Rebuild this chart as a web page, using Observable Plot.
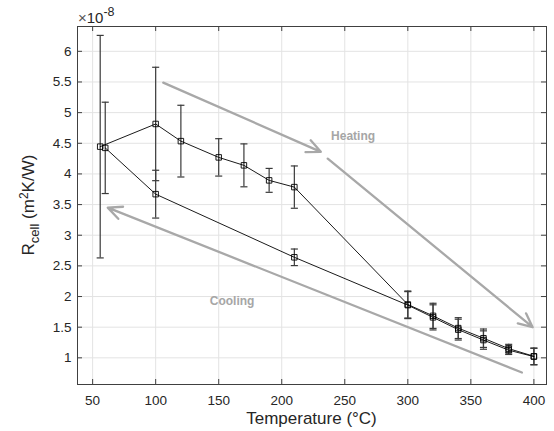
<!DOCTYPE html>
<html>
<head>
<meta charset="utf-8">
<script src="https://cdn.jsdelivr.net/npm/d3@7"></script>
<script src="https://cdn.jsdelivr.net/npm/@observablehq/plot@0.6"></script>
<style>
  html, body { margin: 0; padding: 0; background: #fff; }
  #chart { width: 554px; height: 431px; }
</style>
</head>
<body>
<div id="chart"></div>
<script>
// ---- data (R_cell in units of 1e-8 m^2K/W) ----
const heatT   = [56, 100, 120, 150, 170, 190, 210, 300, 320, 340, 360, 380, 400];
const heatR   = [4.445, 4.815, 4.535, 4.27, 4.14, 3.895, 3.785, 1.87, 1.685, 1.485, 1.32, 1.15, 1.025];
const heatErr = [1.815, 0.925, 0.585, 0.305, 0.35, 0.195, 0.345, 0.22, 0.205, 0.17, 0.15, 0.07, 0.135];

const coolT   = [400, 380, 360, 340, 320, 300, 210, 100, 60];
const coolR   = [1.02, 1.125, 1.29, 1.46, 1.66, 1.86, 2.64, 3.67, 4.425];
const coolErr = [0.135, 0.07, 0.15, 0.17, 0.205, 0.22, 0.135, 0.39, 0.745];

const xTicks = [50, 100, 150, 200, 250, 300, 350, 400];
const yTicks = [1, 1.5, 2, 2.5, 3, 3.5, 4, 4.5, 5, 5.5, 6];

// annotation arrows and labels (data units)
const arrowStartT = [106, 236.5, 390.5];
const arrowStartR = [5.49, 4.25, 0.76];
const arrowEndT   = [231, 399, 62];
const arrowEndR   = [4.36, 1.50, 3.45];
const labelText = ["Heating", "Cooling"];
const labelT    = [256.6, 160.6];
const labelR    = [4.61, 1.92];

// ---- build tables ----
const heat = heatT.map((t, i) => ({T: t, R: heatR[i], lo: heatR[i] - heatErr[i], hi: heatR[i] + heatErr[i]}));
const cool = coolT.map((t, i) => ({T: t, R: coolR[i], lo: coolR[i] - coolErr[i], hi: coolR[i] + coolErr[i]}));
const all = heat.concat(cool);
const arrows = arrowStartT.map((t, i) => ({x1: t, y1: arrowStartR[i], x2: arrowEndT[i], y2: arrowEndR[i]}));
const labels = labelText.map((s, i) => ({text: s, T: labelT[i], R: labelR[i]}));

const W = 554, H = 431;
const mL = 77, mR = 8, mT = 26, mB = 47;
const pW = W - mL - mR, pH = H - mT - mB;
const axisColor = "#404040";
const gridColor = "#e3e3e3";
const font = "'Liberation Sans', Arial, Helvetica, sans-serif";

const capSymbol = {
  draw(ctx, size) {
    const w = Math.sqrt(size) / 2;
    ctx.moveTo(-w, 0);
    ctx.lineTo(w, 0);
  }
};

const chart = Plot.plot({
  width: W,
  height: H,
  marginLeft: mL, marginRight: mR, marginTop: mT, marginBottom: mB,
  style: {fontFamily: font, fontSize: "13px", color: "#262626", background: "#fff"},
  x: {domain: [38, 410]},
  y: {domain: [0.565, 6.405]},
  marks: [
    Plot.gridX(xTicks, {stroke: gridColor, strokeOpacity: 1, strokeWidth: 1}),
    Plot.gridY(yTicks, {stroke: gridColor, strokeOpacity: 1, strokeWidth: 1}),
    Plot.axisX({ticks: xTicks, tickSize: 0, tickPadding: 11, label: null, fill: "#262626", fontSize: 13.5}),
    Plot.axisY({ticks: yTicks, tickSize: 0, tickPadding: 6, label: null, tickFormat: d => String(d), fill: "#262626", fontSize: 13.5}),
    // inward ticks on all four sides
    Plot.ruleX(xTicks, {stroke: axisColor, insetTop: pH - 5}),
    Plot.ruleX(xTicks, {stroke: axisColor, insetBottom: pH - 5}),
    Plot.ruleY(yTicks, {stroke: axisColor, insetRight: pW - 5}),
    Plot.ruleY(yTicks, {stroke: axisColor, insetLeft: pW - 5}),
    // annotation arrows
    Plot.arrow(arrows, {x1: "x1", y1: "y1", x2: "x2", y2: "y2", stroke: "#a8a8a8", strokeWidth: 2.3, headLength: 10, headAngle: 50}),
    Plot.text(labels, {x: "T", y: "R", text: "text", fill: "#a6a6a6", fontWeight: "bold", fontSize: 12}),
    // error bars
    Plot.ruleX(all, {x: "T", y1: "lo", y2: "hi", stroke: "#3a3a3a", strokeWidth: 1.2}),
    Plot.dot(all, {x: "T", y: "lo", symbol: capSymbol, r: 4, stroke: "#3a3a3a", strokeWidth: 1.2, fill: "none"}),
    Plot.dot(all, {x: "T", y: "hi", symbol: capSymbol, r: 4, stroke: "#3a3a3a", strokeWidth: 1.2, fill: "none"}),
    // lines
    Plot.line(heat, {x: "T", y: "R", stroke: "#000", strokeWidth: 0.9}),
    Plot.line(cool, {x: "T", y: "R", stroke: "#000", strokeWidth: 0.9}),
    // markers
    Plot.dot(all, {x: "T", y: "R", symbol: "square", r: 3.1, stroke: "#000", strokeWidth: 0.9, fill: "none"}),
    Plot.frame({stroke: axisColor, strokeWidth: 1})
  ]
});

const svg = d3.select(chart);

// exponent label
const ex = svg.append("text")
  .attr("x", mL + 1).attr("y", 23)
  .attr("text-anchor", "start")
  .style("font-family", font).style("font-size", "15px").attr("fill", "#262626");
ex.append("tspan").attr("fill", "#555").text("×");
ex.append("tspan").text("10");
ex.append("tspan").attr("dy", -7).style("font-size", "12.5px").text("-8");

// x axis label
svg.append("text")
  .attr("x", mL + pW / 2).attr("y", 424)
  .attr("text-anchor", "middle")
  .style("font-family", font).style("font-size", "17px").attr("fill", "#262626")
  .text("Temperature (°C)");

// y axis label with subscript/superscript
const yl = svg.append("text")
  .attr("transform", `translate(34,${mT + pH / 2}) rotate(-90)`)
  .attr("text-anchor", "middle")
  .style("font-family", font).style("font-size", "17px").attr("fill", "#262626");
yl.append("tspan").text("R");
yl.append("tspan").attr("dy", 5).style("font-size", "13px").text("cell");
yl.append("tspan").attr("dy", -5).text(" (m");
yl.append("tspan").attr("dy", -6).style("font-size", "12px").text("2");
yl.append("tspan").attr("dy", 6).text("K/W)");

document.getElementById("chart").appendChild(chart);
</script>
</body>
</html>
